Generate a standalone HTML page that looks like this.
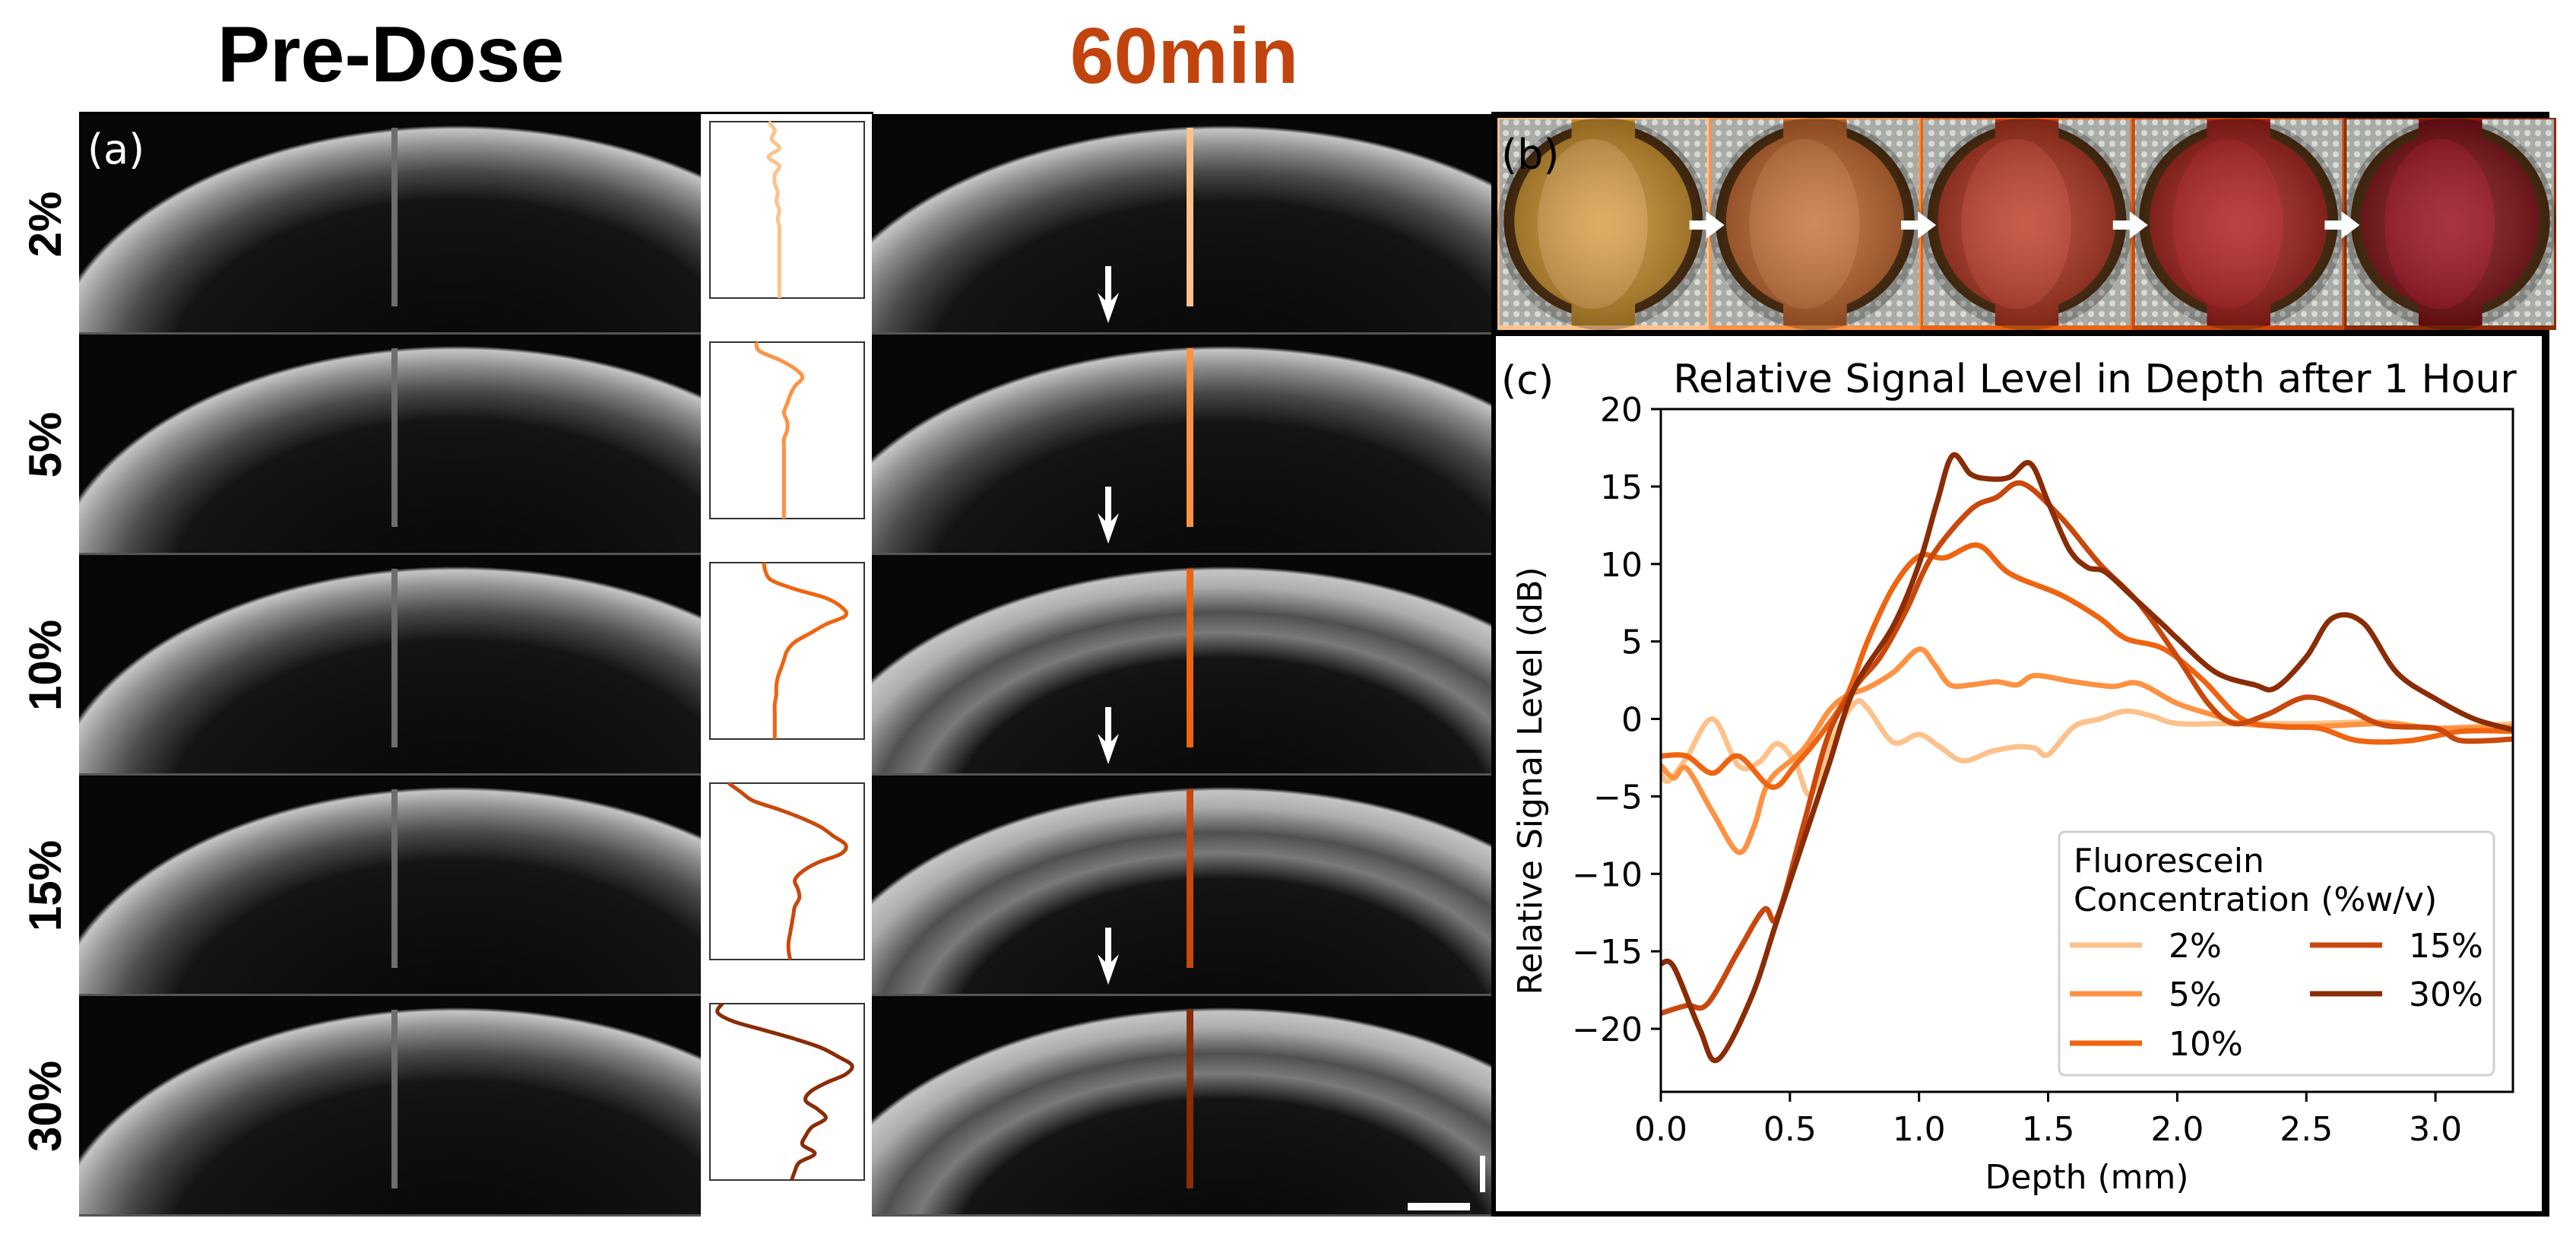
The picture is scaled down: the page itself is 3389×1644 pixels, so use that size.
<!DOCTYPE html>
<html><head><meta charset="utf-8"><style>
html,body{margin:0;padding:0;background:#fff;width:3389px;height:1644px;overflow:hidden;}
svg{display:block;}
</style></head><body>
<svg id="fig" width="3389" height="1644" viewBox="0 0 3389 1644" xmlns="http://www.w3.org/2000/svg">
<defs id="defs">
<radialGradient id="tissue" cx="0.5" cy="0.5" r="0.5">
<stop offset="0" stop-color="#fff" stop-opacity="0.15"/>
<stop offset="1" stop-color="#000" stop-opacity="0.25"/>
</radialGradient>
<pattern id="metal" width="14" height="14" patternUnits="userSpaceOnUse">
<rect width="14" height="14" fill="#a9aba6"/>
<circle cx="7" cy="7" r="4" fill="#d8dad6"/>
</pattern>
</defs>

<text x="514" y="107" text-anchor="middle" font-family="Liberation Sans, sans-serif" font-weight="bold" font-size="104" fill="#000">Pre-Dose</text>
<text x="1558" y="109" text-anchor="middle" font-family="Liberation Sans, sans-serif" font-weight="bold" font-size="104" fill="#c1440e">60min</text>

<g id="left"></g>
<g id="photos"></g>
<g id="chart"></g>
</svg>
<script>
// ---------- chart data ----------
const depthTicks = [0.0, 0.5, 1.0, 1.5, 2.0, 2.5, 3.0];
const depthTickLabels = ["0.0","0.5","1.0","1.5","2.0","2.5","3.0"];
const levelTicks = [20, 15, 10, 5, 0, -5, -10, -15, -20];
const levelTickLabels = ["20","15","10","5","0","\u22125","\u221210","\u221215","\u221220"];
const seriesNames = ["2%","5%","10%","15%","30%"];
const seriesColors = ["#fdc28b","#fd9243","#ee6410","#c9480c","#8a2c06"];
const x2 = [0,0.03,0.1,0.2,0.3,0.38,0.45,0.52,0.58,0.66,0.75,0.8,0.9,1.0,1.08,1.17,1.28,1.38,1.45,1.5,1.6,1.7,1.8,1.9,2.0,2.2,2.5,2.8,3.0,3.3];
const y2 = [-3.5,-4,-2.5,0,-3,-2.8,-1.6,-2.8,-4.9,-1.5,1,0.7,-1.5,-1,-1.8,-2.7,-2.1,-1.8,-1.9,-2.3,-0.5,0,0.5,0.2,-0.3,-0.3,-0.3,-0.2,-0.6,-0.3];
const x5 = [0,0.05,0.1,0.2,0.3,0.36,0.42,0.55,0.65,0.72,0.8,0.9,1.0,1.06,1.12,1.2,1.3,1.38,1.45,1.6,1.75,1.85,2.0,2.15,2.25,2.5,2.8,3.0,3.3];
const y5 = [-3,-3.8,-3.2,-6,-8.6,-7,-4,-2,0.5,1.5,2,3,4.5,3.5,2.2,2.2,2.4,2.2,2.8,2.4,2.1,2.3,1.0,0.2,-0.3,-0.5,-0.3,-0.6,-0.5];
const x10 = [0,0.1,0.2,0.3,0.43,0.52,0.62,0.72,0.8,0.9,1.0,1.1,1.23,1.35,1.55,1.7,1.8,1.95,2.1,2.25,2.4,2.55,2.7,2.9,3.1,3.3];
const y10 = [-2.4,-2.4,-3.5,-2.4,-4.4,-3,-1,1.5,5,8.5,10.5,10.4,11.2,9.4,8,6.5,5.2,4.5,2.5,0,-0.5,-0.6,-1.4,-1.4,-0.8,-0.8];
const x15 = [0,0.1,0.18,0.3,0.4,0.45,0.55,0.65,0.75,0.85,0.95,1.05,1.2,1.3,1.4,1.55,1.7,1.85,2.0,2.12,2.22,2.35,2.5,2.65,2.8,3.0,3.1,3.3];
const y15 = [-19,-18.5,-18.4,-15,-12.3,-12.8,-7,-1,2,4,7,10.5,13.5,14.3,15.2,13,10,7.5,4,1,-0.3,0.3,1.4,0.7,-0.4,-0.6,-1.4,-1.3];
const x30 = [0,0.05,0.15,0.22,0.35,0.45,0.55,0.65,0.75,0.9,1.0,1.07,1.13,1.2,1.27,1.35,1.43,1.5,1.58,1.65,1.72,1.82,1.95,2.0,2.15,2.3,2.38,2.5,2.6,2.72,2.85,3.0,3.15,3.3];
const y30 = [-15.8,-16,-20,-22,-18,-13,-8,-3,2,6,10,14,17,15.8,15.5,15.6,16.5,14,11,9.8,9.5,8,6,5.2,3,2.2,2,4,6.5,6.2,3,1.3,0,-0.7];
const seriesX = [x2,x5,x10,x15,x30];
const seriesY = [y2,y5,y10,y15,y30];

// profile insets (relative horizontal position vs relative depth)
const profDepth = [0,0.05,0.1,0.15,0.2,0.25,0.3,0.35,0.4,0.45,0.5,0.55,0.6,0.65,0.7,0.75,0.8,0.85,0.9,0.95,1.0];
const prof2 = [0.38,0.42,0.40,0.45,0.38,0.45,0.42,0.42,0.44,0.43,0.45,0.44,0.45,0.45,0.45,0.45,0.45,0.45,0.45,0.45,0.45];
const prof5 = [0.30,0.32,0.45,0.55,0.60,0.55,0.52,0.50,0.48,0.50,0.50,0.48,0.48,0.48,0.48,0.48,0.48,0.48,0.48,0.48,0.48];
const prof10 = [0.35,0.36,0.40,0.55,0.75,0.85,0.88,0.75,0.65,0.55,0.50,0.48,0.46,0.44,0.43,0.43,0.42,0.42,0.42,0.42,0.42];
const prof15 = [0.12,0.20,0.28,0.45,0.60,0.72,0.80,0.88,0.85,0.70,0.60,0.55,0.57,0.58,0.55,0.54,0.53,0.52,0.51,0.51,0.52];
const prof30 = [0.08,0.05,0.15,0.35,0.55,0.72,0.83,0.92,0.88,0.75,0.65,0.62,0.70,0.75,0.66,0.62,0.60,0.68,0.58,0.55,0.53];
const profiles = [prof2,prof5,prof10,prof15,prof30];

const NS="http://www.w3.org/2000/svg";
function mk(tag, attrs, parent){const e=document.createElementNS(NS,tag);for(const k in attrs)e.setAttribute(k,attrs[k]);parent.appendChild(e);return e;}
function smooth(pts){
  let d="M"+pts[0][0].toFixed(1)+","+pts[0][1].toFixed(1);
  for(let i=0;i<pts.length-1;i++){
    const p0=pts[i-1]||pts[i],p1=pts[i],p2=pts[i+1],p3=pts[i+2]||p2;
    const c1=[p1[0]+(p2[0]-p0[0])/6,p1[1]+(p2[1]-p0[1])/6];
    const c2=[p2[0]-(p3[0]-p1[0])/6,p2[1]-(p3[1]-p1[1])/6];
    d+=" C"+c1[0].toFixed(1)+","+c1[1].toFixed(1)+" "+c2[0].toFixed(1)+","+c2[1].toFixed(1)+" "+p2[0].toFixed(1)+","+p2[1].toFixed(1);
  }
  return d;
}
const DEFS=document.getElementById('defs');
const stopsA=[[0,'#050505',1],[0.7,'#141414',1],[0.82,'#4a4a4a',1],[0.92,'#8e8e8e',1],[0.985,'#c4c4c4',1],[1,'#070707',1]];
const stopsB=[[0,'#050505',1],[0.64,'#141414',1],[0.74,'#7a7a7a',1],[0.82,'#505050',1],[0.92,'#acacac',1],[0.985,'#c4c4c4',1],[1,'#070707',1]];
function octGrad(id,cx,cy,rx,ry,stops){
  const g=mk('radialGradient',{id:id,gradientUnits:'userSpaceOnUse',cx:0,cy:0,r:1,gradientTransform:`translate(${cx} ${cy}) scale(${rx} ${ry})`},DEFS);
  stops.forEach(s=>mk('stop',{offset:s[0],'stop-color':s[1]},g));
}

// ---------- left panel (a) ----------
const L=document.getElementById('left');
const rowTops=[150,440,730,1020,1310], rowH=290;
mk('rect',{x:104,y:147,width:1045,height:1453,fill:'#000'},L);
mk('rect',{x:922,y:150,width:225,height:1450,fill:'#fff'},L);
for(let r=0;r<5;r++){
  const t=rowTops[r];
  const g=mk('g',{},L);
  
  
  octGrad('ga'+r,600,t+340,540,325,stopsA);
  octGrad('gb'+r,1610,t+350,560,335,r>=2?stopsB:stopsA);
  const im1=mk('rect',{x:104,y:t,width:818,height:rowH-3,fill:'url(#ga'+r+')'},g);
  
  
  mk('rect',{x:104,y:t+rowH-3,width:818,height:3,fill:'#555'},g);
  const pl=mk('rect',{x:515,y:t+18,width:8,height:235,fill:'#6d6d6d'},g);
  
  
  const im2=mk('rect',{x:1147,y:t,width:815,height:rowH-3,fill:'url(#gb'+r+')'},g);
  
  
  mk('rect',{x:1147,y:t+rowH-3,width:815,height:3,fill:'#555'},g);
  const ml=mk('rect',{x:1561,y:t+18,width:9,height:235,fill:seriesColors[r]},g);
  
  
  if(r<4){
    const ar=mk('path',{d:`M1454 ${t+200} h8 v45 l10 -10 l-14 40 l-14 -40 l10 10 z`,fill:'#fff'},g);
    
    
  }
  const bx=934,by=t+10,bw=203,bh=232;
  const box=mk('rect',{x:bx,y:by,width:bw,height:bh,fill:'#fff',stroke:'#333','stroke-width':2},g);
  
  
  const pts=profDepth.map((d,i)=>[bx+profiles[r][i]*bw,by+d*bh]);
  const pp=mk('path',{d:smooth(pts),fill:'none',stroke:seriesColors[r],'stroke-width':5},g);
  
  
  const cy=t+rowH/2;
  const lb=mk('text',{x:0,y:0,transform:`translate(80 ${cy}) rotate(-90)`,'text-anchor':'middle','font-family':'Liberation Sans, sans-serif','font-weight':'bold','font-size':60,fill:'#000'},L);
  lb.textContent=seriesNames[r];
  
  
}
const la=mk('text',{x:115,y:215,'font-family':'DejaVu Sans, sans-serif','font-size':54,fill:'#fff'},L);
la.textContent='(a)';


const sb1=mk('rect',{x:1852,y:1582,width:82,height:10,fill:'#fff'},L);


const sb2=mk('rect',{x:1947,y:1520,width:7,height:48,fill:'#fff'},L);



// ---------- photo strip (b) ----------
const P=document.getElementById('photos');
mk('rect',{x:1962,y:147,width:1392,height:1453,fill:'#000'},P);
const tileFill=['#c08a2a','#b8602a','#a8321e','#9a1e18','#7a0f14'];
const tileCenter=['#d8a04a','#c8743c','#c0402c','#b02020','#9a1020'];
const borderCols=['#fdc28b','#fd9243','#ee6410','#c9480c','#8a2c06'];
for(let i=0;i<5;i++){
  const x=1970+i*278.6, y=155, w=278.6, h=279;
  const g=mk('g',{},P);
  
  
  mk('rect',{x:x,y:y,width:w,height:h,fill:borderCols[i]},g);
  mk('rect',{x:x+3,y:y+2,width:w-6,height:h-8,fill:'url(#metal)'},g);
  mk('ellipse',{cx:x+w/2,cy:y+h/2-4,rx:w*0.47,ry:h*0.46,fill:'#4a2a0c'},g);
  mk('rect',{x:x+w*0.35,y:y+2,width:w*0.3,height:h-8,fill:tileFill[i]},g);
  mk('ellipse',{cx:x+w/2,cy:y+h/2-4,rx:w*0.42,ry:h*0.42,fill:tileFill[i]},g);
  mk('ellipse',{cx:x+w*0.45,cy:y+h/2,rx:w*0.26,ry:h*0.4,fill:tileCenter[i]},g);
  mk('ellipse',{cx:x+w/2,cy:y+h/2,rx:w*0.5,ry:h*0.5,fill:'url(#tissue)'},g);
  if(i>0){
    const ar=mk('path',{d:`M${x-26} ${y+135} h22 v-12 l24 18 l-24 18 v-12 h-22 z`,fill:'#fff'},g);
    
    
  }
}
const lbb=mk('text',{x:1975,y:222,'font-family':'DejaVu Sans, sans-serif','font-size':54,fill:'#000'},P);
lbb.textContent='(b)';


mk('rect',{x:1968,y:442,width:1376,height:1151,fill:'#fff'},P);

// ---------- chart (c) ----------
const C=document.getElementById('chart');
const X0=2185,X1=3306,Y0=538,Y1=1436, xmin=0,xmax=3.3,ymax=20,ymin=-24.07;
const sx=v=>X0+(v-xmin)/(xmax-xmin)*(X1-X0);
const sy=v=>Y0+(ymax-v)/(ymax-ymin)*(Y1-Y0);
const FF='DejaVu Sans, Liberation Sans, sans-serif';
const tc=mk('text',{x:1975,y:518,'font-family':FF,'font-size':52,fill:'#000'},C);
tc.textContent='(c)';


const tt=mk('text',{x:2756,y:516,'text-anchor':'middle','font-family':FF,'font-size':52,fill:'#000'},C);
tt.textContent='Relative Signal Level in Depth after 1 Hour';


const clip=mk('clipPath',{id:'plotclip'},C);
mk('rect',{x:X0,y:Y0,width:X1-X0,height:Y1-Y0},clip);
for(let s=0;s<5;s++){
  const pts=seriesX[s].map((v,i)=>[sx(v),sy(seriesY[s][i])]);
  const p=mk('path',{d:smooth(pts),fill:'none',stroke:seriesColors[s],'stroke-width':7,'stroke-linejoin':'round','clip-path':'url(#plotclip)'},C);
  
  
}
const frame=mk('rect',{x:X0,y:Y0,width:X1-X0,height:Y1-Y0,fill:'none',stroke:'#000','stroke-width':3},C);


depthTicks.forEach((v,i)=>{
  const tk=mk('line',{x1:sx(v),x2:sx(v),y1:Y1,y2:Y1+13,stroke:'#000','stroke-width':3},C);
  
  
  const t=mk('text',{x:sx(v),y:Y1+64,'text-anchor':'middle','font-family':FF,'font-size':44,fill:'#000'},C);
  t.textContent=depthTickLabels[i];
  
  
});
levelTicks.forEach((v,i)=>{
  const tk=mk('line',{x1:X0-13,x2:X0,y1:sy(v),y2:sy(v),stroke:'#000','stroke-width':3},C);
  
  
  const t=mk('text',{x:X0-24,y:sy(v)+16,'text-anchor':'end','font-family':FF,'font-size':44,fill:'#000'},C);
  t.textContent=levelTickLabels[i];
  
  
});
const xl=mk('text',{x:(X0+X1)/2,y:1563,'text-anchor':'middle','font-family':FF,'font-size':44,fill:'#000'},C);
xl.textContent='Depth (mm)';


const yl=mk('text',{x:0,y:0,transform:`translate(2028 ${(Y0+Y1)/2+40}) rotate(-90)`,'text-anchor':'middle','font-family':FF,'font-size':44,fill:'#000'},C);
yl.textContent='Relative Signal Level (dB)';


const lg=mk('g',{},C);


mk('rect',{x:2709,y:1094,width:572,height:320,rx:8,fill:'#fff','fill-opacity':0.85,stroke:'#d0d0d0','stroke-width':3},lg);
const lt1=mk('text',{x:2728,y:1147,'font-family':FF,'font-size':44,fill:'#000'},lg);
lt1.textContent='Fluorescein';
const lt2=mk('text',{x:2728,y:1198,'font-family':FF,'font-size':44,fill:'#000'},lg);
lt2.textContent='Concentration (%w/v)';
const legPos=[[2723,1243],[2723,1307],[2723,1372],[3039,1243],[3039,1307]];
for(let s=0;s<5;s++){
  const [lx,ly]=legPos[s];
  const h=mk('line',{x1:lx,x2:lx+95,y1:ly,y2:ly,stroke:seriesColors[s],'stroke-width':7},lg);
  
  
  const t=mk('text',{x:lx+130,y:ly+16,'font-family':FF,'font-size':44,fill:'#000'},lg);
  t.textContent=seriesNames[s];
  
  
}
</script>
</body></html>
